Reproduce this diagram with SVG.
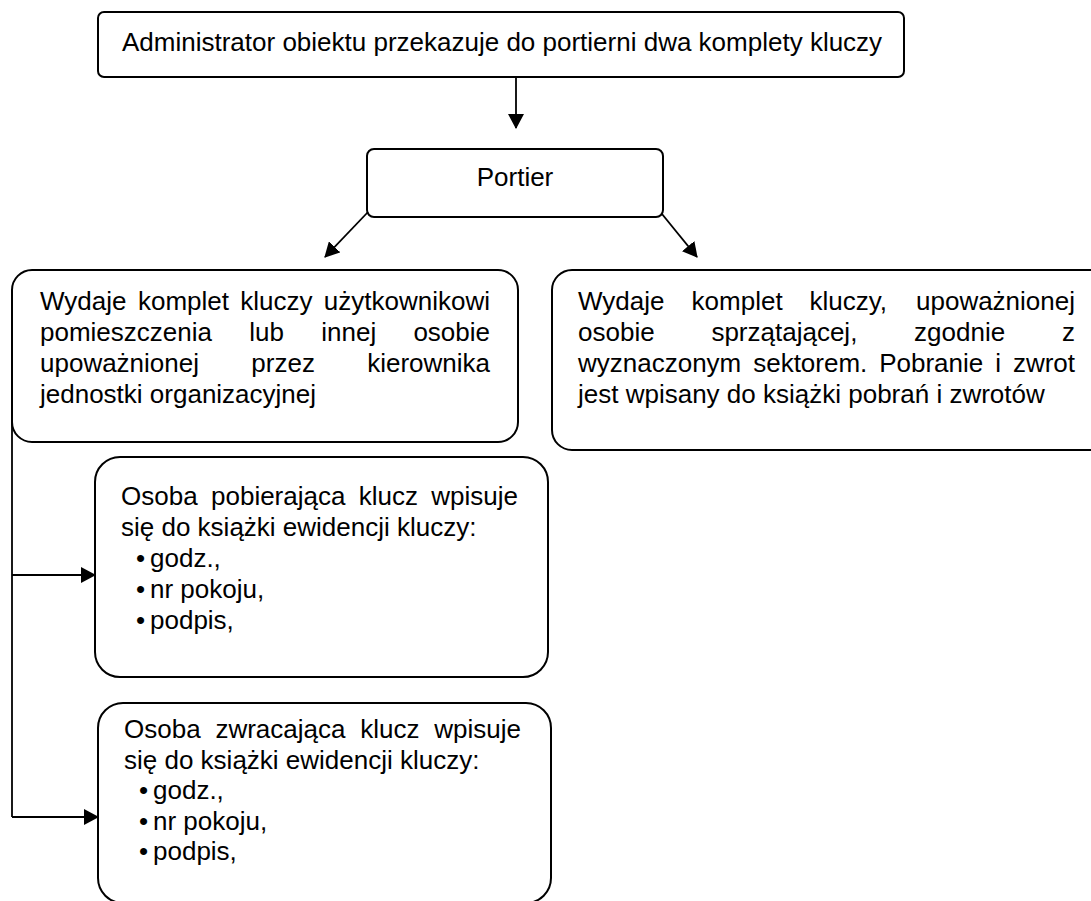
<svg xmlns="http://www.w3.org/2000/svg" width="1091" height="901" viewBox="0 0 1091 901">
<defs>
<style>
.box{fill:#fff;stroke:#000;stroke-width:2}
.t{font-family:"Liberation Sans",Arial,sans-serif;font-size:26px;fill:#000}
.c{stroke:#000;stroke-width:1.8;fill:none}
</style>
<marker id="ah" markerWidth="15" markerHeight="16" refX="14" refY="8" orient="auto" markerUnits="userSpaceOnUse" viewBox="0 0 15 16">
<path d="M0,0 L15,8 L0,16 z" fill="#000"/>
</marker>
</defs>
<rect width="1091" height="901" fill="#fff"/>
<g id="n-admin"><rect class="box" x="98" y="12" width="806" height="65" rx="6"/>
<text class="t" x="122" y="51">Administrator obiektu przekazuje do portierni dwa komplety kluczy</text></g>
<g id="n-portier"><rect class="box" x="367" y="149" width="296" height="68" rx="7"/>
<text class="t" x="515" y="186" text-anchor="middle">Portier</text></g>
<g id="n-left"><rect class="box" x="12" y="270" width="506" height="172" rx="20"/>
<text class="t" y="310"><tspan x="40">Wydaje</tspan><tspan x="138">komplet</tspan><tspan x="240.3">kluczy</tspan><tspan x="323.8">użytkownikowi</tspan></text>
<text class="t" y="341"><tspan x="40">pomieszczenia</tspan><tspan x="249.3">lub</tspan><tspan x="321.3">innej</tspan><tspan x="413.4">osobie</tspan></text>
<text class="t" y="372"><tspan x="40">upoważnionej</tspan><tspan x="251.3">przez</tspan><tspan x="367.2">kierownika</tspan></text>
<text class="t" x="40" y="403">jednostki organizacyjnej</text></g>
<g id="n-right"><rect class="box" x="552" y="270" width="560" height="180" rx="20"/>
<text class="t" y="310"><tspan x="578">Wydaje</tspan><tspan x="691.6">komplet</tspan><tspan x="809.5">kluczy,</tspan><tspan x="916">upoważnionej</tspan></text>
<text class="t" y="341"><tspan x="578">osobie</tspan><tspan x="711.4">sprzątającej,</tspan><tspan x="914.1">zgodnie</tspan><tspan x="1062">z</tspan></text>
<text class="t" y="372"><tspan x="578">wyznaczonym</tspan><tspan x="753.2">sektorem.</tspan><tspan x="879.2">Pobranie</tspan><tspan x="995.2">i</tspan><tspan x="1012.9">zwrot</tspan></text>
<text class="t" x="578" y="403">jest wpisany do książki pobrań i zwrotów</text></g>
<g id="n-pobr"><rect class="box" x="95" y="457" width="453" height="220" rx="25"/>
<text class="t" y="505"><tspan x="121">Osoba</tspan><tspan x="211">pobierająca</tspan><tspan x="358.8">klucz</tspan><tspan x="431.3">wpisuje</tspan></text>
<text class="t" x="121" y="536">się do książki ewidencji kluczy:</text>
<text class="t" y="567"><tspan x="136">•</tspan><tspan x="150">godz.,</tspan></text>
<text class="t" y="598"><tspan x="136">•</tspan><tspan x="150">nr pokoju,</tspan></text>
<text class="t" y="629"><tspan x="136">•</tspan><tspan x="150">podpis,</tspan></text></g>
<g id="n-zwr"><rect class="box" x="98" y="703" width="453" height="200" rx="25"/>
<text class="t" y="738"><tspan x="124">Osoba</tspan><tspan x="215.4">zwracająca</tspan><tspan x="360.2">klucz</tspan><tspan x="434.3">wpisuje</tspan></text>
<text class="t" x="124" y="768.5">się do książki ewidencji kluczy:</text>
<text class="t" y="799"><tspan x="139">•</tspan><tspan x="153">godz.,</tspan></text>
<text class="t" y="829.5"><tspan x="139">•</tspan><tspan x="153">nr pokoju,</tspan></text>
<text class="t" y="860"><tspan x="139">•</tspan><tspan x="153">podpis,</tspan></text></g>
<g id="connectors">
<line class="c" x1="516" y1="77" x2="516" y2="128" marker-end="url(#ah)"/>
<line class="c" x1="368" y1="212" x2="325" y2="257" marker-end="url(#ah)"/>
<line class="c" x1="662" y1="214" x2="697" y2="257" marker-end="url(#ah)"/>
<line class="c" x1="12" y1="420" x2="12" y2="817"/>
<line class="c" x1="12" y1="575" x2="95" y2="575" marker-end="url(#ah)"/>
<line class="c" x1="12" y1="817" x2="98" y2="817" marker-end="url(#ah)"/>
</g>
</svg>
